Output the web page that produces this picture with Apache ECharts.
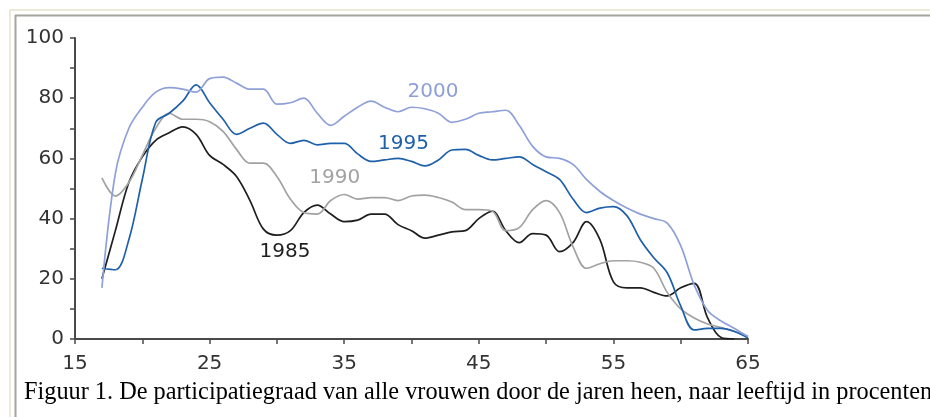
<!DOCTYPE html>
<html>
<head>
<meta charset="utf-8">
<script src="https://cdn.jsdelivr.net/npm/echarts@6/dist/echarts.min.js"></script>
<style>
  html, body { margin: 0; padding: 0; background: #fff; }
  #chart { width: 930px; height: 417px; }
</style>
</head>
<body>
<div id="chart"></div>
<script>
// leeftijd 17 t/m 65
const ages = []
for (let a = 17; a <= 65; a++) ages.push(a)

const y1985 = [20, 36, 52, 60.5, 66, 68.5, 70.5, 68, 61, 58, 54, 46, 36.5, 34.5, 36, 42, 44.5, 41.5, 39, 39.5,
  41.5, 41.5, 38, 36, 33.5, 34.5, 35.6, 36, 40, 42.5, 36, 32, 35, 34.5, 29, 32, 39, 33, 19, 17,
  17, 15.5, 14.3, 17, 18.5, 7, 0.5, 0, null]
const y1990 = [53.5, 47.5, 52, 61, 70, 75, 73, 73, 72.2, 69, 63, 58.4, 58.4, 54, 46.5, 42, 41.5, 46, 48, 46.5,
  47, 47, 46, 47.5, 47.8, 47, 45.5, 43, 43, 42.5, 36, 37, 43, 46, 42, 30.7, 23.5, 25, 26, 26,
  25.5, 23.5, 15.5, 10, 7, 5, 3.8, 2.5, 0.8]
const y1995 = [23.5, 23, 33, 53, 72, 75, 79, 84.4, 78.5, 73, 68, 70, 71.7, 68, 65, 66, 64.5, 65, 65, 61.5,
  59, 59.5, 60, 59, 57.5, 59.5, 62.8, 63, 61, 59.5, 60, 60.5, 58, 55.6, 53, 46.5, 42, 43.5, 44, 41,
  33, 27, 22, 11, 3, 3.5, 3.5, 2.5, 0.3]
const y2000 = [17, 55, 70, 77, 82, 83.5, 83, 82, 86.5, 87, 85, 83, 83, 78, 78.5, 80, 75, 71, 74, 77,
  79, 77, 75.5, 77, 76.5, 75, 72, 73, 75, 75.5, 76, 71, 64, 60.5, 60, 58, 53, 49, 46, 43.5,
  41.5, 40, 38.5, 31, 18, 9.5, 6, 3.5, 0.8]

const seriesNames = ['1985', '1990', '1995', '2000']
const seriesColors = ['#1e1e1e', '#a2a2a2', '#1f60aa', '#8fa0d8']
// plek van de jaartal-labels in de grafiek [leeftijd, percentage]
const labelAt = [[30.6, 29], [34.3, 53.5], [39.4, 65], [41.6, 82]]

const xTicks = [15, 25, 35, 45, 55, 65]
const yTicks = [0, 20, 40, 60, 80, 100]

const caption = 'Figuur 1. De participatiegraad van alle vrouwen door de jaren heen, naar leeftijd in procenten'

const values = [y1985, y1990, y1995, y2000]
const labelFont = 'DejaVu Sans'

const chart = echarts.init(document.getElementById('chart'), null, { renderer: 'canvas' })

chart.setOption({
  backgroundColor: '#fff',
  animation: false,
  title: {
    text: caption,
    left: 19,
    top: 376,
    textStyle: { fontFamily: 'Liberation Serif', fontSize: 24.3, fontWeight: 'normal', color: '#000' },
  },
  graphic: [
    { type: 'line', shape: { x1: 10, y1: 10, x2: 930, y2: 10 }, style: { stroke: '#ece9d8', lineWidth: 2 } },
    { type: 'line', shape: { x1: 10, y1: 10, x2: 10, y2: 417 }, style: { stroke: '#ece9d8', lineWidth: 2 } },
    { type: 'line', shape: { x1: 15, y1: 15.5, x2: 930, y2: 15.5 }, style: { stroke: '#a5a59d', lineWidth: 2 } },
    { type: 'line', shape: { x1: 15.5, y1: 15, x2: 15.5, y2: 417 }, style: { stroke: '#a5a59d', lineWidth: 2 } },
  ],
  grid: { left: 75, right: 182, top: 38, bottom: 78, containLabel: false },
  xAxis: {
    type: 'value',
    min: 15,
    max: 65,
    interval: 5,
    axisLine: { lineStyle: { color: '#4a4a4a', width: 2 } },
    axisTick: { length: 5, lineStyle: { color: '#4a4a4a', width: 1.5 } },
    splitLine: { show: false },
    axisLabel: {
      margin: 15,
      color: '#333',
      fontFamily: labelFont,
      fontSize: 20,
      formatter: (v) => (xTicks.includes(v) ? String(v) : ''),
    },
  },
  yAxis: {
    type: 'value',
    min: 0,
    max: 100,
    interval: 10,
    axisLine: { show: true, lineStyle: { color: '#4a4a4a', width: 2 } },
    axisTick: { show: true, length: 5, lineStyle: { color: '#4a4a4a', width: 1.5 } },
    splitLine: { show: false },
    axisLabel: {
      margin: 11,
      color: '#333',
      fontFamily: labelFont,
      fontSize: 20,
      formatter: (v) => (yTicks.includes(v) ? String(v) : ''),
    },
  },
  series: seriesNames.map((name, i) => ({
    name,
    type: 'line',
    data: ages.map((a, j) => [a, values[i][j]]),
    smooth: 0.35,
    showSymbol: false,
    connectNulls: false,
    lineStyle: { color: seriesColors[i], width: 1.7 },
    markPoint: {
      symbol: 'circle',
      symbolSize: 1,
      itemStyle: { color: 'rgba(0,0,0,0)' },
      data: [{ coord: labelAt[i], value: name }],
      label: {
        show: true,
        position: 'inside',
        formatter: name,
        color: seriesColors[i],
        fontFamily: labelFont,
        fontSize: 20,
      },
    },
  })),
})
</script>
</body>
</html>
